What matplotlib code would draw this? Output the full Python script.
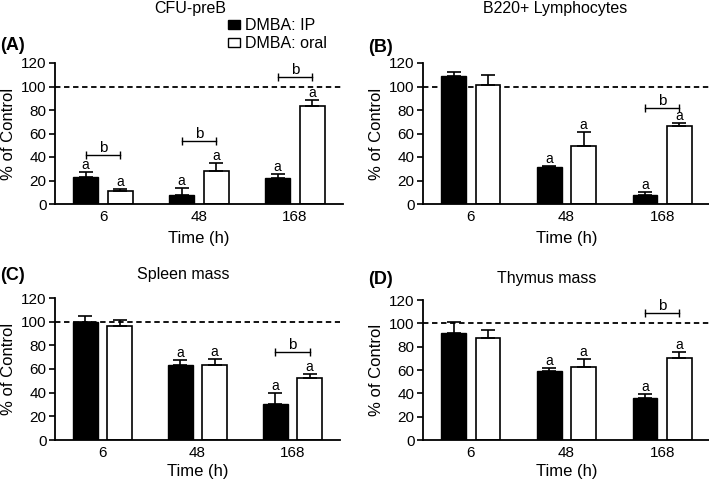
import numpy as np
import matplotlib
matplotlib.use('Agg')
import matplotlib.pyplot as plt
from matplotlib.patches import Patch

plt.rcParams['font.family'] = ['Liberation Sans', 'DejaVu Sans']

times = ['6', '48', '168']
series = ['DMBA: IP', 'DMBA: oral']

# mean and SEM (% of control)
cfu_ip = [23, 7.5, 22]
cfu_ip_err = [4.5, 6.5, 3.5]
cfu_oral = [11, 28, 83]
cfu_oral_err = [2, 6.5, 5.5]

b220_ip = [109, 31.5, 8]
b220_ip_err = [3, 1, 2.5]
b220_oral = [101, 49.5, 66]
b220_oral_err = [9, 12, 3]

spleen_ip = [99.5, 63, 30.5]
spleen_ip_err = [5.5, 4.5, 9.5]
spleen_oral = [96.5, 63, 52]
spleen_oral_err = [4.5, 5.5, 3.5]

thymus_ip = [92, 59, 36]
thymus_ip_err = [9, 3, 3.5]
thymus_oral = [87.5, 62.5, 70]
thymus_oral_err = [7, 7, 5.5]

# significance marks: 'a' per bar, 'b' bracket height per time point (None = no bracket)
cfu_a_ip = [True, True, True]
cfu_a_oral = [True, True, True]
cfu_b = [41.5, 54, 108]
b220_a_ip = [False, True, True]
b220_a_oral = [False, True, True]
b220_b = [None, None, 81.5]
spleen_a_ip = [False, True, True]
spleen_a_oral = [False, True, True]
spleen_b = [None, None, 74.5]
thymus_a_ip = [False, True, True]
thymus_a_oral = [False, True, True]
thymus_b = [None, None, 109]

W, H = 709, 483
fig = plt.figure(figsize=(W / 100, H / 100), dpi=100)


def px_axes(left, right, top, bottom):
    return fig.add_axes([left / W, 1 - bottom / H, (right - left) / W, (bottom - top) / H])


def panel(ax, ip, ip_err, oral, oral_err, a_ip, a_oral, b_heights, xlab_pad=3):
    x = np.arange(len(times))
    w = 0.26
    off = 0.18
    ax.bar(x - off, ip, w, color='black', edgecolor='black', linewidth=1.0, zorder=2)
    ax.bar(x + off, oral, w, color='white', edgecolor='black', linewidth=1.2, zorder=2)
    ax.errorbar(x - off, ip, yerr=[np.zeros(3), ip_err], fmt='none', ecolor='black',
                elinewidth=1.2, capsize=5, capthick=1.2, zorder=3)
    ax.errorbar(x + off, oral, yerr=[np.zeros(3), oral_err], fmt='none', ecolor='black',
                elinewidth=1.2, capsize=5, capthick=1.2, zorder=3)
    ax.axhline(100, color='black', linestyle=(0, (3, 2)), linewidth=1.3, zorder=1)
    for i in range(len(times)):
        if a_ip[i]:
            ax.annotate('a', (x[i] - off, ip[i] + ip_err[i]), xytext=(0, 0),
                        textcoords='offset points', ha='center', va='bottom', fontsize=10)
        if a_oral[i]:
            ax.annotate('a', (x[i] + off, oral[i] + oral_err[i]), xytext=(0, 0),
                        textcoords='offset points', ha='center', va='bottom', fontsize=10)
        if b_heights[i] is not None:
            yb = b_heights[i]
            ax.plot([x[i] - off, x[i] + off], [yb, yb], color='black', linewidth=1.0,
                    marker='|', markersize=6, markeredgewidth=1.0, clip_on=False)
            ax.annotate('b', (x[i], yb), xytext=(0, 0), textcoords='offset points',
                        ha='center', va='bottom', fontsize=11)
    ax.set_xlim(-0.5, 2.5)
    ax.set_ylim(0, 120)
    ax.set_yticks(range(0, 121, 20))
    ax.set_xticks(x)
    ax.set_xticklabels(times)
    ax.tick_params(axis='x', length=0, pad=4, labelsize=11)
    ax.tick_params(axis='y', length=4, width=1.2, pad=2, labelsize=11)
    ax.spines['top'].set_visible(False)
    ax.spines['right'].set_visible(False)
    ax.spines['left'].set_linewidth(1.3)
    ax.spines['bottom'].set_linewidth(1.3)
    ax.set_ylabel('% of Control', fontsize=12, labelpad=4)
    ax.set_xlabel('Time (h)', fontsize=12, labelpad=xlab_pad)


axA = px_axes(55, 343, 63, 204)
axB = px_axes(423, 710, 63, 204)
axC = px_axes(55, 340, 298, 440)
axD = px_axes(423, 710, 300, 440)

panel(axA, cfu_ip, cfu_ip_err, cfu_oral, cfu_oral_err, cfu_a_ip, cfu_a_oral, cfu_b, 5)
panel(axB, b220_ip, b220_ip_err, b220_oral, b220_oral_err, b220_a_ip, b220_a_oral, b220_b, 5)
panel(axC, spleen_ip, spleen_ip_err, spleen_oral, spleen_oral_err, spleen_a_ip, spleen_a_oral, spleen_b)
panel(axD, thymus_ip, thymus_ip_err, thymus_oral, thymus_oral_err, thymus_a_ip, thymus_a_oral, thymus_b)

# titles and panel letters
fig.text(190 / W, 1 - 8 / H, 'CFU-preB', ha='center', va='center', fontsize=11.5)
fig.text(555 / W, 1 - 8 / H, 'B220+ Lymphocytes', ha='center', va='center', fontsize=11.5)
fig.text(183 / W, 1 - 275 / H, 'Spleen mass', ha='center', va='center', fontsize=11.5)
fig.text(547 / W, 1 - 278 / H, 'Thymus mass', ha='center', va='center', fontsize=11.5)
fig.text(0 / W, 1 - 45 / H, '(A)', ha='left', va='center', fontsize=13, fontweight='bold')
fig.text(368 / W, 1 - 47 / H, '(B)', ha='left', va='center', fontsize=13, fontweight='bold')
fig.text(0 / W, 1 - 276 / H, '(C)', ha='left', va='center', fontsize=13, fontweight='bold')
fig.text(368 / W, 1 - 279 / H, '(D)', ha='left', va='center', fontsize=13, fontweight='bold')

handles = [Patch(facecolor='black', edgecolor='black', linewidth=1.0),
           Patch(facecolor='white', edgecolor='black', linewidth=1.0)]
fig.legend(handles, series, loc='upper left', bbox_to_anchor=(228 / W, 1 - 18 / H),
           frameon=False, fontsize=11.5, handlelength=0.75, handleheight=0.45,
           handletextpad=0.3, labelspacing=0.2, borderpad=0, borderaxespad=0)

fig.savefig('out.png', dpi=100)
